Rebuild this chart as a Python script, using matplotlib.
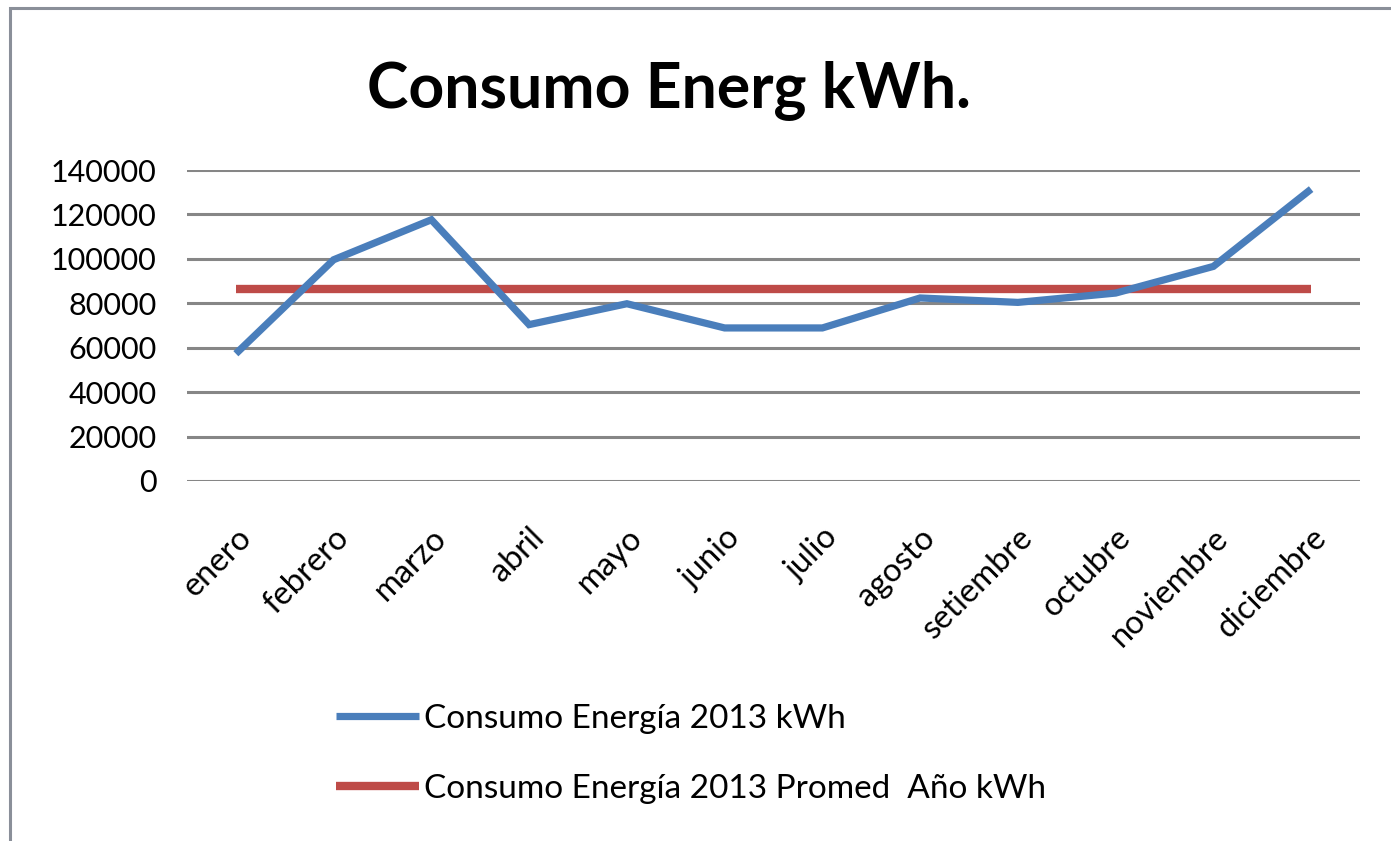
import matplotlib
matplotlib.use("Agg")
import matplotlib.pyplot as plt
from matplotlib.patches import Rectangle

months = ["enero", "febrero", "marzo", "abril", "mayo", "junio", "julio",
          "agosto", "setiembre", "octubre", "noviembre", "diciembre"]
consumo = [57300, 99600, 117600, 70400, 79800, 68900, 68900,
           82400, 80400, 84600, 96600, 131400]
promedio = [86500] * 12
yticks = [0, 20000, 40000, 60000, 80000, 100000, 120000, 140000]

title = "Consumo Energ kWh."
label_consumo = "Consumo Energía 2013 kWh"
label_promedio = "Consumo Energía 2013 Promed  Año kWh"

BLUE = "#4A7EBB"
RED = "#BE4B48"
GRID = "#868686"
FONT = "Lato"

W, H = 1391, 841
fig = plt.figure(figsize=(W / 100, H / 100), dpi=100)
fig.patch.set_facecolor("white")

# outer chart frame (only top and left edges visible)
fig.patches.append(Rectangle((10 / W, -0.1), 1.2, 1 - 8 / H + 0.1,
                             transform=fig.transFigure, fill=False,
                             edgecolor="#8a8f99", lw=2.2))

ax = fig.add_axes([187 / W, 1 - 481 / H, (1360 - 187) / W, (481 - 170) / H])
x = list(range(len(months)))
ax.plot(x, consumo, color=BLUE, lw=5.2, solid_joinstyle="miter",
        solid_capstyle="butt", label=label_consumo, zorder=3)
ax.plot(x, promedio, color=RED, lw=6.0, solid_capstyle="butt",
        label=label_promedio, zorder=2)

ax.set_xlim(-0.5, len(months) - 0.5)
ax.set_ylim(0, 140000)
ax.set_yticks(yticks)
ax.set_yticklabels([str(v) for v in yticks], fontsize=22, family=FONT)
ax.yaxis.grid(True, color=GRID, lw=2.2)
ax.set_axisbelow(True)
for s in ax.spines.values():
    s.set_visible(False)
ax.tick_params(axis="y", length=0, pad=22)
ax.tick_params(axis="x", length=0, pad=30)
ax.set_xticks(x)
ax.set_xticklabels(months, fontsize=23.5, family=FONT, rotation=45,
                   ha="right", va="top", rotation_mode="anchor")

fig.text(669 / W, 1 - 107 / H, title, ha="center", va="baseline",
         fontsize=45, fontweight="bold", family=FONT)

h, l = ax.get_legend_handles_labels()
fig.legend(h, l, loc="upper left", bbox_to_anchor=(336 / W, 1 - 704 / H),
           frameon=False, prop={"family": FONT, "size": 24},
           handlelength=2.5, handletextpad=0.15, labelspacing=1.2,
           borderaxespad=0, borderpad=0)

fig.savefig("out.png", dpi=100)
